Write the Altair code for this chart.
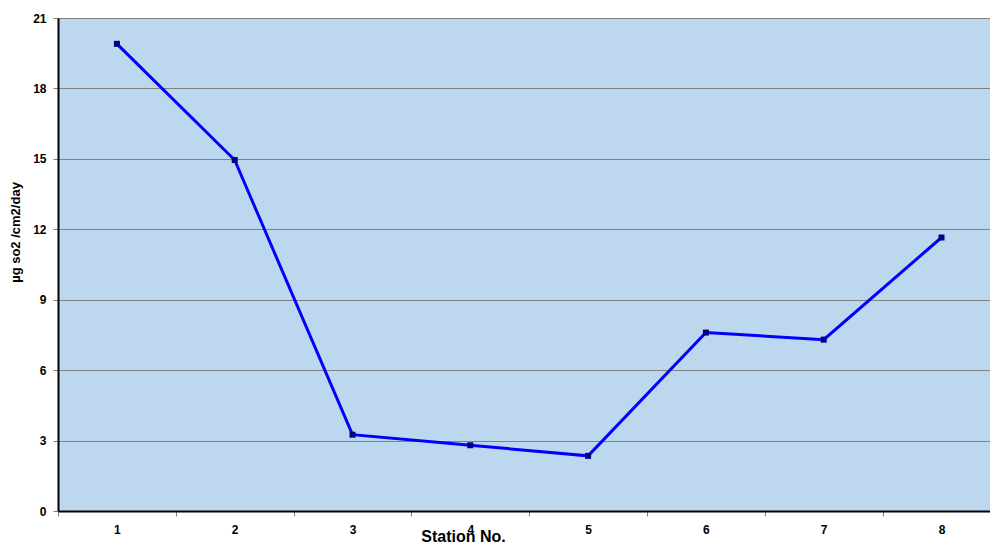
import altair as alt
import pandas as pd

# Sulphur dioxide deposition per sampling station
stations = [1, 2, 3, 4, 5, 6, 7, 8]
so2_values = [19.9, 14.95, 3.25, 2.8, 2.35, 7.6, 7.3, 11.65]
y_ticks = [0, 3, 6, 9, 12, 15, 18, 21]

df = pd.DataFrame({"station": stations, "so2": so2_values})

PLOT_W = 932
PLOT_H = 493
STEP = 117.8  # pixel spacing between stations

x_scale = alt.Scale(domain=[0.5, 0.5 + PLOT_W / STEP], nice=False, zero=False)
y_scale = alt.Scale(domain=[0, 21], nice=False, zero=True)

FONT = "Liberation Sans"

x_axis = alt.Axis(
    values=stations,
    title="Station No.",
    titleFont=FONT,
    titleFontSize=16,
    titleFontWeight="bold",
    titleColor="#000000",
    titleX=405,
    titleY=30,
    titleAnchor="start",
    titleAlign="center",
    titleBaseline="alphabetic",
    labelFont=FONT,
    labelFontSize=12,
    labelFontWeight="bold",
    labelColor="#000000",
    labelPadding=8,
    labelOverlap=False,
    labelFlush=False,
    tickOffset=-STEP / 2,
    labelOffset=STEP / 2,
    tickColor="#808080",
    tickSize=5,
    domainColor="#000000",
    domainWidth=2,
    grid=False,
)

y_axis = alt.Axis(
    values=y_ticks,
    title="µg so2 /cm2/day",
    titleFont=FONT,
    titleFontSize=13,
    titleFontWeight="bold",
    titleColor="#000000",
    titleAngle=270,
    titleX=-43,
    titleY=214,
    titleAlign="center",
    titleBaseline="middle",
    labelFont=FONT,
    labelFontSize=12,
    labelFontWeight="bold",
    labelColor="#000000",
    labelPadding=7,
    tickColor="#808080",
    tickSize=5,
    domainColor="#000000",
    domainWidth=2,
    grid=True,
    gridColor="#808080",
    gridWidth=1,
)

base = alt.Chart(df).encode(
    x=alt.X("station:Q", scale=x_scale, axis=x_axis),
    y=alt.Y("so2:Q", scale=y_scale, axis=y_axis),
)

line = base.mark_line(color="#0000FF", strokeWidth=3, clip=True)
points = base.mark_square(size=36, color="#000080", opacity=1, clip=True)

chart = (
    (line + points)
    .properties(
        width=PLOT_W,
        height=PLOT_H,
        autosize=alt.AutoSizeParams(type="none"),
        padding={"left": 58, "top": 18, "right": 0, "bottom": 31},
        background="#FFFFFF",
    )
    .configure_view(fill="#BDD7EE", stroke=None)
)

chart.save("out.html", embed_options={"renderer": "svg", "actions": False})
